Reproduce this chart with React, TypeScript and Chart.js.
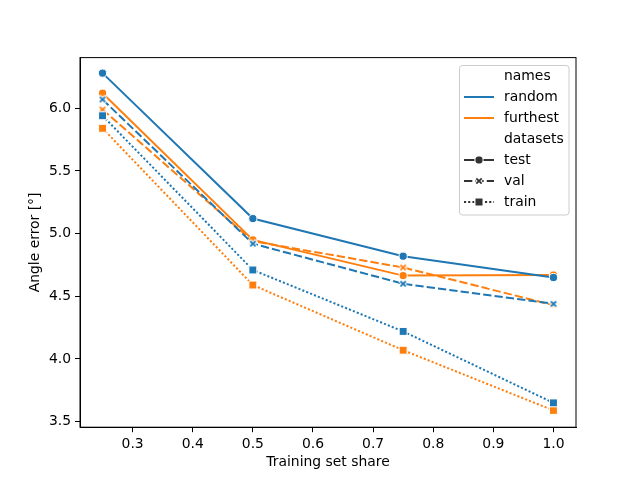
import React, { useEffect, useRef } from 'react';
import { Chart, registerables } from 'chart.js';

Chart.register(...registerables);

const shares = [0.25, 0.5, 0.75, 1.0];
const xTicks = [0.3, 0.4, 0.5, 0.6, 0.7, 0.8, 0.9, 1.0];
const yTicks = [3.5, 4.0, 4.5, 5.0, 5.5, 6.0];

const randomTest = [6.28, 5.12, 4.82, 4.65];
const furthestTest = [6.12, 4.95, 4.665, 4.67];
const randomVal = [6.07, 4.92, 4.6, 4.44];
const furthestVal = [5.99, 4.94, 4.73, 4.43];
const randomTrain = [5.94, 4.71, 4.22, 3.65];
const furthestTrain = [5.84, 4.59, 4.07, 3.59];

const names = ['random', 'furthest'];
const splits = ['test', 'val', 'train'];

const BLUE = '#1f77b4';
const ORANGE = '#ff7f0e';
const GRAY = '#333333';
const FONT = "'DejaVu Sans', sans-serif";
const FS = 13.9;

const dashes: Record<string, number[]> = {
  test: [],
  val: [8.3, 3.1],
  train: [2.1, 2.1],
};

// filled 'X' marker like matplotlib's, with a white edge
function xMarker(color: string) {
  const c = document.createElement('canvas');
  c.width = 12;
  c.height = 12;
  const ctx = c.getContext('2d')!;
  const s = 4.2;
  const t = s / 3;
  const pts = [
    [-t, -s], [t, -s], [t, -t], [s, -t], [s, t], [t, t],
    [t, s], [-t, s], [-t, t], [-s, t], [-s, -t], [-t, -t],
  ];
  ctx.translate(6, 6);
  ctx.rotate(Math.PI / 4);
  ctx.beginPath();
  pts.forEach(([x, y], i) => (i ? ctx.lineTo(x, y) : ctx.moveTo(x, y)));
  ctx.closePath();
  ctx.fillStyle = color;
  ctx.fill();
  ctx.strokeStyle = '#fff';
  ctx.lineWidth = 1;
  ctx.stroke();
  return c;
}

function pointOpts(split: string, color: string) {
  if (split === 'test') return { pointStyle: 'circle', pointRadius: 4.1 };
  if (split === 'train') return { pointStyle: 'rect', pointRadius: 5.6 };
  return { pointStyle: xMarker(color), pointRadius: 5 };
}

const series = [
  { name: 'random', split: 'test', values: randomTest, color: BLUE },
  { name: 'random', split: 'val', values: randomVal, color: BLUE },
  { name: 'random', split: 'train', values: randomTrain, color: BLUE },
  { name: 'furthest', split: 'test', values: furthestTest, color: ORANGE },
  { name: 'furthest', split: 'val', values: furthestVal, color: ORANGE },
  { name: 'furthest', split: 'train', values: furthestTrain, color: ORANGE },
];

const framePlugin = {
  id: 'frame',
  afterDraw(chart: any) {
    const { ctx, chartArea: a } = chart;
    ctx.save();
    ctx.strokeStyle = '#000';
    ctx.lineWidth = 1;
    ctx.strokeRect(a.left, a.top, a.right - a.left, a.bottom - a.top);

    // seaborn-style legend
    const bx = 459.5, by = 65.5, bw = 109.5, bh = 149.5;
    ctx.fillStyle = 'rgba(255,255,255,0.8)';
    ctx.strokeStyle = '#cccccc';
    ctx.beginPath();
    ctx.roundRect(bx, by, bw, bh, 3);
    ctx.fill();
    ctx.stroke();

    const rows: { text: string; color?: string; split?: string }[] = [
      { text: 'names' },
      { text: names[0], color: BLUE },
      { text: names[1], color: ORANGE },
      { text: 'datasets' },
      ...splits.map((s) => ({ text: s, color: GRAY, split: s })),
    ];
    ctx.font = `${FS}px ${FONT}`;
    ctx.textBaseline = 'middle';
    ctx.textAlign = 'left';
    rows.forEach((r, i) => {
      const y = 76 + i * 21;
      ctx.fillStyle = '#000';
      ctx.fillText(r.text, 504, y);
      if (!r.color) return;
      ctx.beginPath();
      ctx.strokeStyle = r.color;
      ctx.lineWidth = 2;
      ctx.setLineDash(r.split ? dashes[r.split] : []);
      ctx.moveTo(464, y);
      ctx.lineTo(494, y);
      ctx.stroke();
      ctx.setLineDash([]);
      const cx = 479;
      ctx.fillStyle = r.color;
      ctx.strokeStyle = '#fff';
      ctx.lineWidth = 1;
      if (r.split === 'test') {
        ctx.beginPath();
        ctx.arc(cx, y, 4.1, 0, Math.PI * 2);
        ctx.fill();
        ctx.stroke();
      } else if (r.split === 'train') {
        ctx.beginPath();
        ctx.rect(cx - 4, y - 4, 8, 8);
        ctx.fill();
        ctx.stroke();
      } else if (r.split === 'val') {
        const img = xMarker(r.color);
        ctx.drawImage(img, cx - 6, y - 6);
      }
    });
    ctx.restore();
  },
};

const App = () => {
  const chartRef = useRef<HTMLCanvasElement>(null);

  useEffect(() => {
    document.body.style.margin = '0';
    if (!chartRef.current) return;
    const chart = new Chart(chartRef.current, {
      type: 'line',
      data: {
        datasets: series.map((s) => ({
          label: `${s.name} ${s.split}`,
          data: shares.map((x, i) => ({ x, y: s.values[i] })),
          borderColor: s.color,
          backgroundColor: s.color,
          borderWidth: 2,
          borderDash: dashes[s.split],
          pointBorderColor: '#fff',
          pointBorderWidth: 1,
          tension: 0,
          ...pointOpts(s.split, s.color),
        })) as any,
      },
      options: {
        animation: false,
        responsive: false,
        devicePixelRatio: 1,
        layout: { padding: { left: 0, top: 57.6, right: 64, bottom: 0 } },
        plugins: {
          legend: { display: false },
          tooltip: { enabled: false },
        },
        scales: {
          x: {
            type: 'linear',
            min: 0.2125,
            max: 1.0375,
            afterBuildTicks: (scale: any) => {
              scale.ticks = xTicks.map((v) => ({ value: v }));
            },
            afterFit: (scale: any) => {
              scale.height = 52.8;
            },
            grid: {
              drawOnChartArea: false,
              drawTicks: true,
              tickLength: 5,
              tickColor: '#000',
            },
            border: { color: '#000' },
            ticks: {
              color: '#000',
              padding: 4,
              maxRotation: 0,
              font: { family: FONT, size: FS },
              callback: (v: any) => Number(v).toFixed(1),
            },
            title: {
              display: true,
              text: 'Training set share',
              color: '#000',
              font: { family: FONT, size: FS },
              padding: { top: 0, bottom: 9 },
            },
          },
          y: {
            type: 'linear',
            min: 3.456,
            max: 6.404,
            afterBuildTicks: (scale: any) => {
              scale.ticks = yTicks.map((v) => ({ value: v }));
            },
            afterFit: (scale: any) => {
              scale.width = 80;
            },
            grid: {
              drawOnChartArea: false,
              drawTicks: true,
              tickLength: 5,
              tickColor: '#000',
            },
            border: { color: '#000' },
            ticks: {
              color: '#000',
              padding: 4,
              font: { family: FONT, size: FS },
              callback: (v: any) => Number(v).toFixed(1),
            },
            title: {
              display: true,
              text: 'Angle error [°]',
              color: '#000',
              font: { family: FONT, size: FS },
              padding: { top: 27, bottom: 0 },
            },
          },
        },
      },
      plugins: [framePlugin],
    });
    return () => {
      chart.destroy();
    };
  }, []);

  return <canvas ref={chartRef} width={640} height={480} />;
};

export default App;
